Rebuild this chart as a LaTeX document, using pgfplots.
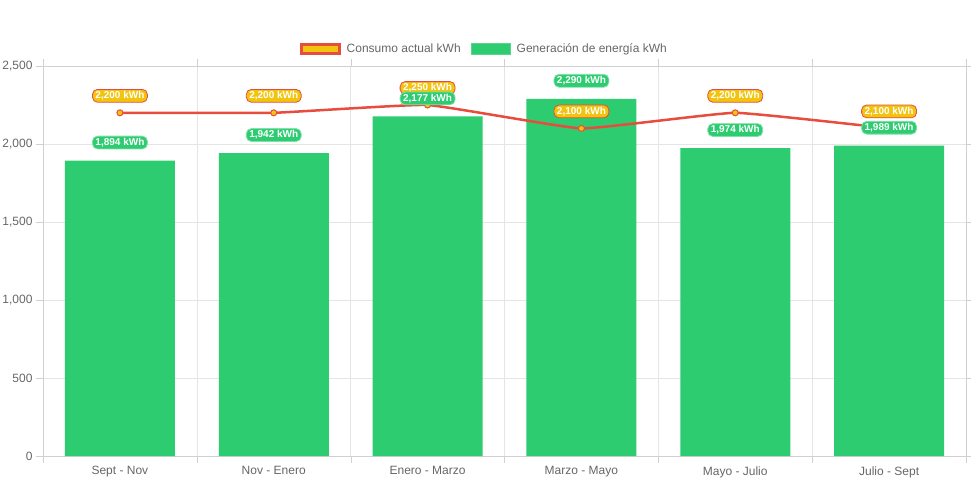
\documentclass[border=0pt]{standalone}
\usepackage{pgfplots}
\pgfplotsset{compat=1.18}
\usepackage{fontspec}
\setmainfont{Liberation Sans}
\definecolor{barg}{HTML}{2ECC71}
\definecolor{liner}{HTML}{E74C3C}
\definecolor{ora}{HTML}{F1C40F}
\definecolor{txt}{HTML}{666666}
\definecolor{grd}{HTML}{E5E5E5}
\definecolor{axl}{HTML}{D0D0D0}
\begin{document}
\begin{tikzpicture}
\useasboundingbox (-43pt,-29pt) rectangle (928pt,456pt);
\begin{axis}[
  scale only axis, width=923pt, height=390pt,
  xmin=-0.5, xmax=5.5, ymin=0, ymax=2500,
  xtick={0,...,5},
  xticklabels={Sept - Nov, Nov - Enero, Enero - Marzo, Marzo - Mayo, Mayo - Julio, Julio - Sept},
  minor xtick={-0.5,0.5,...,5.5},
  ytick={0,500,...,2500},
  tick align=outside, major tick length=7pt, minor tick length=7pt,
  xtick style={draw=none},
  minor x tick style={draw=axl},
  y tick style={draw=axl},
  xmajorgrids=false, minor x grid style={grd}, xminorgrids=true,
  ymajorgrids=true, major grid style={grd},
  axis line style={axl},
  tick label style={font=\fontsize{12}{14}\selectfont, text=txt},
  /pgf/number format/assume math mode=true,
  /pgf/number format/1000 sep={,},
  scaled y ticks=false,
  legend style={draw=none, fill=none, at={(0.5,1)}, anchor=center, yshift=17pt, xshift=-20pt,
    font=\fontsize{12}{14}\selectfont, text=txt,
    /tikz/every odd column/.append style={column sep=4pt},
    /tikz/every even column/.append style={column sep=8pt}},
  legend columns=2,
  legend cell align=left,
]
\addlegendimage{legend image code/.code={\draw[fill=ora, draw=liner, line width=2.5pt] (0pt,-4.5pt) rectangle (38pt,4.5pt);}}
\addlegendentry{Consumo actual kWh}
\addlegendimage{legend image code/.code={\draw[fill=barg, draw=barg!80!white, line width=1pt] (0pt,-5.5pt) rectangle (39pt,5.5pt);}}
\addlegendentry{Generación de energía kWh}

% bars
\addplot[ybar, bar width=110pt, fill=barg, draw=none, forget plot]
  coordinates {(0,1894) (1,1942) (2,2177) (3,2290) (4,1974) (5,1989)};

% line with its labels
\addplot[liner, line width=2.5pt, smooth, tension=0.2, mark=*, mark size=3pt,
  mark options={fill=ora, draw=liner, line width=1pt}, forget plot,
  nodes near coords={\pgfmathprintnumber{\pgfplotspointmeta}~kWh},
  every node near coord/.append style={font=\bfseries\fontsize{10}{12}\selectfont, text=white,
    fill=ora, draw=liner, line width=0.8pt, rounded corners=5pt, inner xsep=3pt, inner ysep=2pt,
    anchor=center, yshift=17pt}]
  coordinates {(0,2200) (1,2200) (2,2250) (3,2100) (4,2200) (5,2100)};

% bar labels on top
\addplot[ybar, bar width=110pt, fill=none, draw=none, forget plot,
  nodes near coords={\pgfmathprintnumber{\pgfplotspointmeta}~kWh},
  every node near coord/.append style={font=\bfseries\fontsize{10}{12}\selectfont, text=white,
    fill=barg, draw=barg!60!white, line width=0.8pt, rounded corners=5pt, inner xsep=3pt, inner ysep=2pt,
    anchor=center, yshift=18pt}]
  coordinates {(0,1894) (1,1942) (2,2177) (3,2290) (4,1974) (5,1989)};
\end{axis}
\end{tikzpicture}
\end{document}
